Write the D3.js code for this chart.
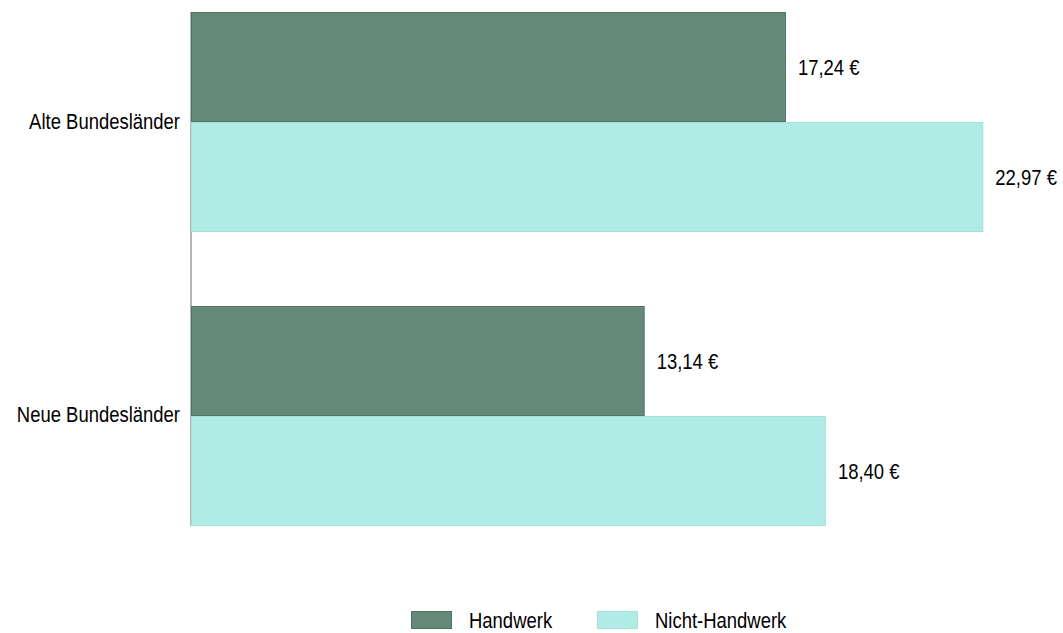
<!DOCTYPE html>
<html><head><meta charset="utf-8">
<script src="https://cdn.jsdelivr.net/npm/d3@7"></script>
<style>body{margin:0;background:#fff}svg{display:block}text{font-family:"Liberation Sans",Arial,sans-serif;fill:#000}</style>
</head><body>
<svg id="c" width="1063" height="633"></svg>
<script>
const categories = ["Alte Bundesländer", "Neue Bundesländer"];
const seriesNames = ["Handwerk", "Nicht-Handwerk"];
const handwerk = [17.24, 13.14];
const nichtHandwerk = [22.97, 18.40];
const valueLabels = [["17,24 €", "22,97 €"], ["13,14 €", "18,40 €"]];

const colors = {"Handwerk": {fill: "#658a7a", stroke: "#4d7464"}, "Nicht-Handwerk": {fill: "#b1ebe5", stroke: "#a3e1da"}};
const FS = 22, SX = 0.84;

const svg = d3.select("#c");
const x = d3.scaleLinear().domain([0, 25]).range([192, 192 + 25 * 34.45]);
const y = d3.scaleBand().domain(categories).range([12, 526]).paddingInner(0.2517).paddingOuter(0);
const ySub = d3.scaleBand().domain(seriesNames).range([0, y.bandwidth()]).padding(0);

const data = categories.map((c, i) => ({cat: c, vals: [
  {s: "Handwerk", v: handwerk[i], label: valueLabels[i][0]},
  {s: "Nicht-Handwerk", v: nichtHandwerk[i], label: valueLabels[i][1]}
]}));

// axis line
svg.append("line").attr("x1", 191).attr("x2", 191).attr("y1", y.range()[0]).attr("y2", y.range()[1])
  .attr("stroke", "#b4b4b4").attr("stroke-width", 2);

function sText(g, tx, ty, str, anchor) {
  return g.append("text").attr("transform", `translate(${tx},${ty}) scale(${SX},1)`)
    .attr("text-anchor", anchor).attr("font-size", FS).text(str);
}

const groups = svg.selectAll("g.grp").data(data).join("g").attr("class", "grp")
  .attr("transform", d => `translate(0,${y(d.cat)})`);

groups.selectAll("rect").data(d => d.vals).join("rect")
  .attr("x", x(0) - 0.5).attr("y", d => ySub(d.s) + 0.5)
  .attr("width", d => x(d.v) - x(0)).attr("height", ySub.bandwidth() - 1)
  .attr("fill", d => colors[d.s].fill).attr("stroke", d => colors[d.s].stroke).attr("stroke-width", 1);

groups.each(function(d) {
  const g = d3.select(this);
  d.vals.forEach(v => {
    sText(g, x(v.v) + 12, ySub(v.s) + ySub.bandwidth() / 2 + 8, v.label, "start");
  });
});

// category labels
data.forEach(d => {
  sText(svg, 180, y(d.cat) + y.bandwidth() / 2 + 6.5, d.cat, "end");
});

// legend
const legendX = [411, 597];
seriesNames.forEach((s, i) => {
  svg.append("rect").attr("x", legendX[i] + 0.5).attr("y", 611.5).attr("width", 40).attr("height", 17)
    .attr("fill", colors[s].fill).attr("stroke", colors[s].stroke);
  sText(svg, legendX[i] + 58, 628, s, "start");
});
</script>
</body></html>
